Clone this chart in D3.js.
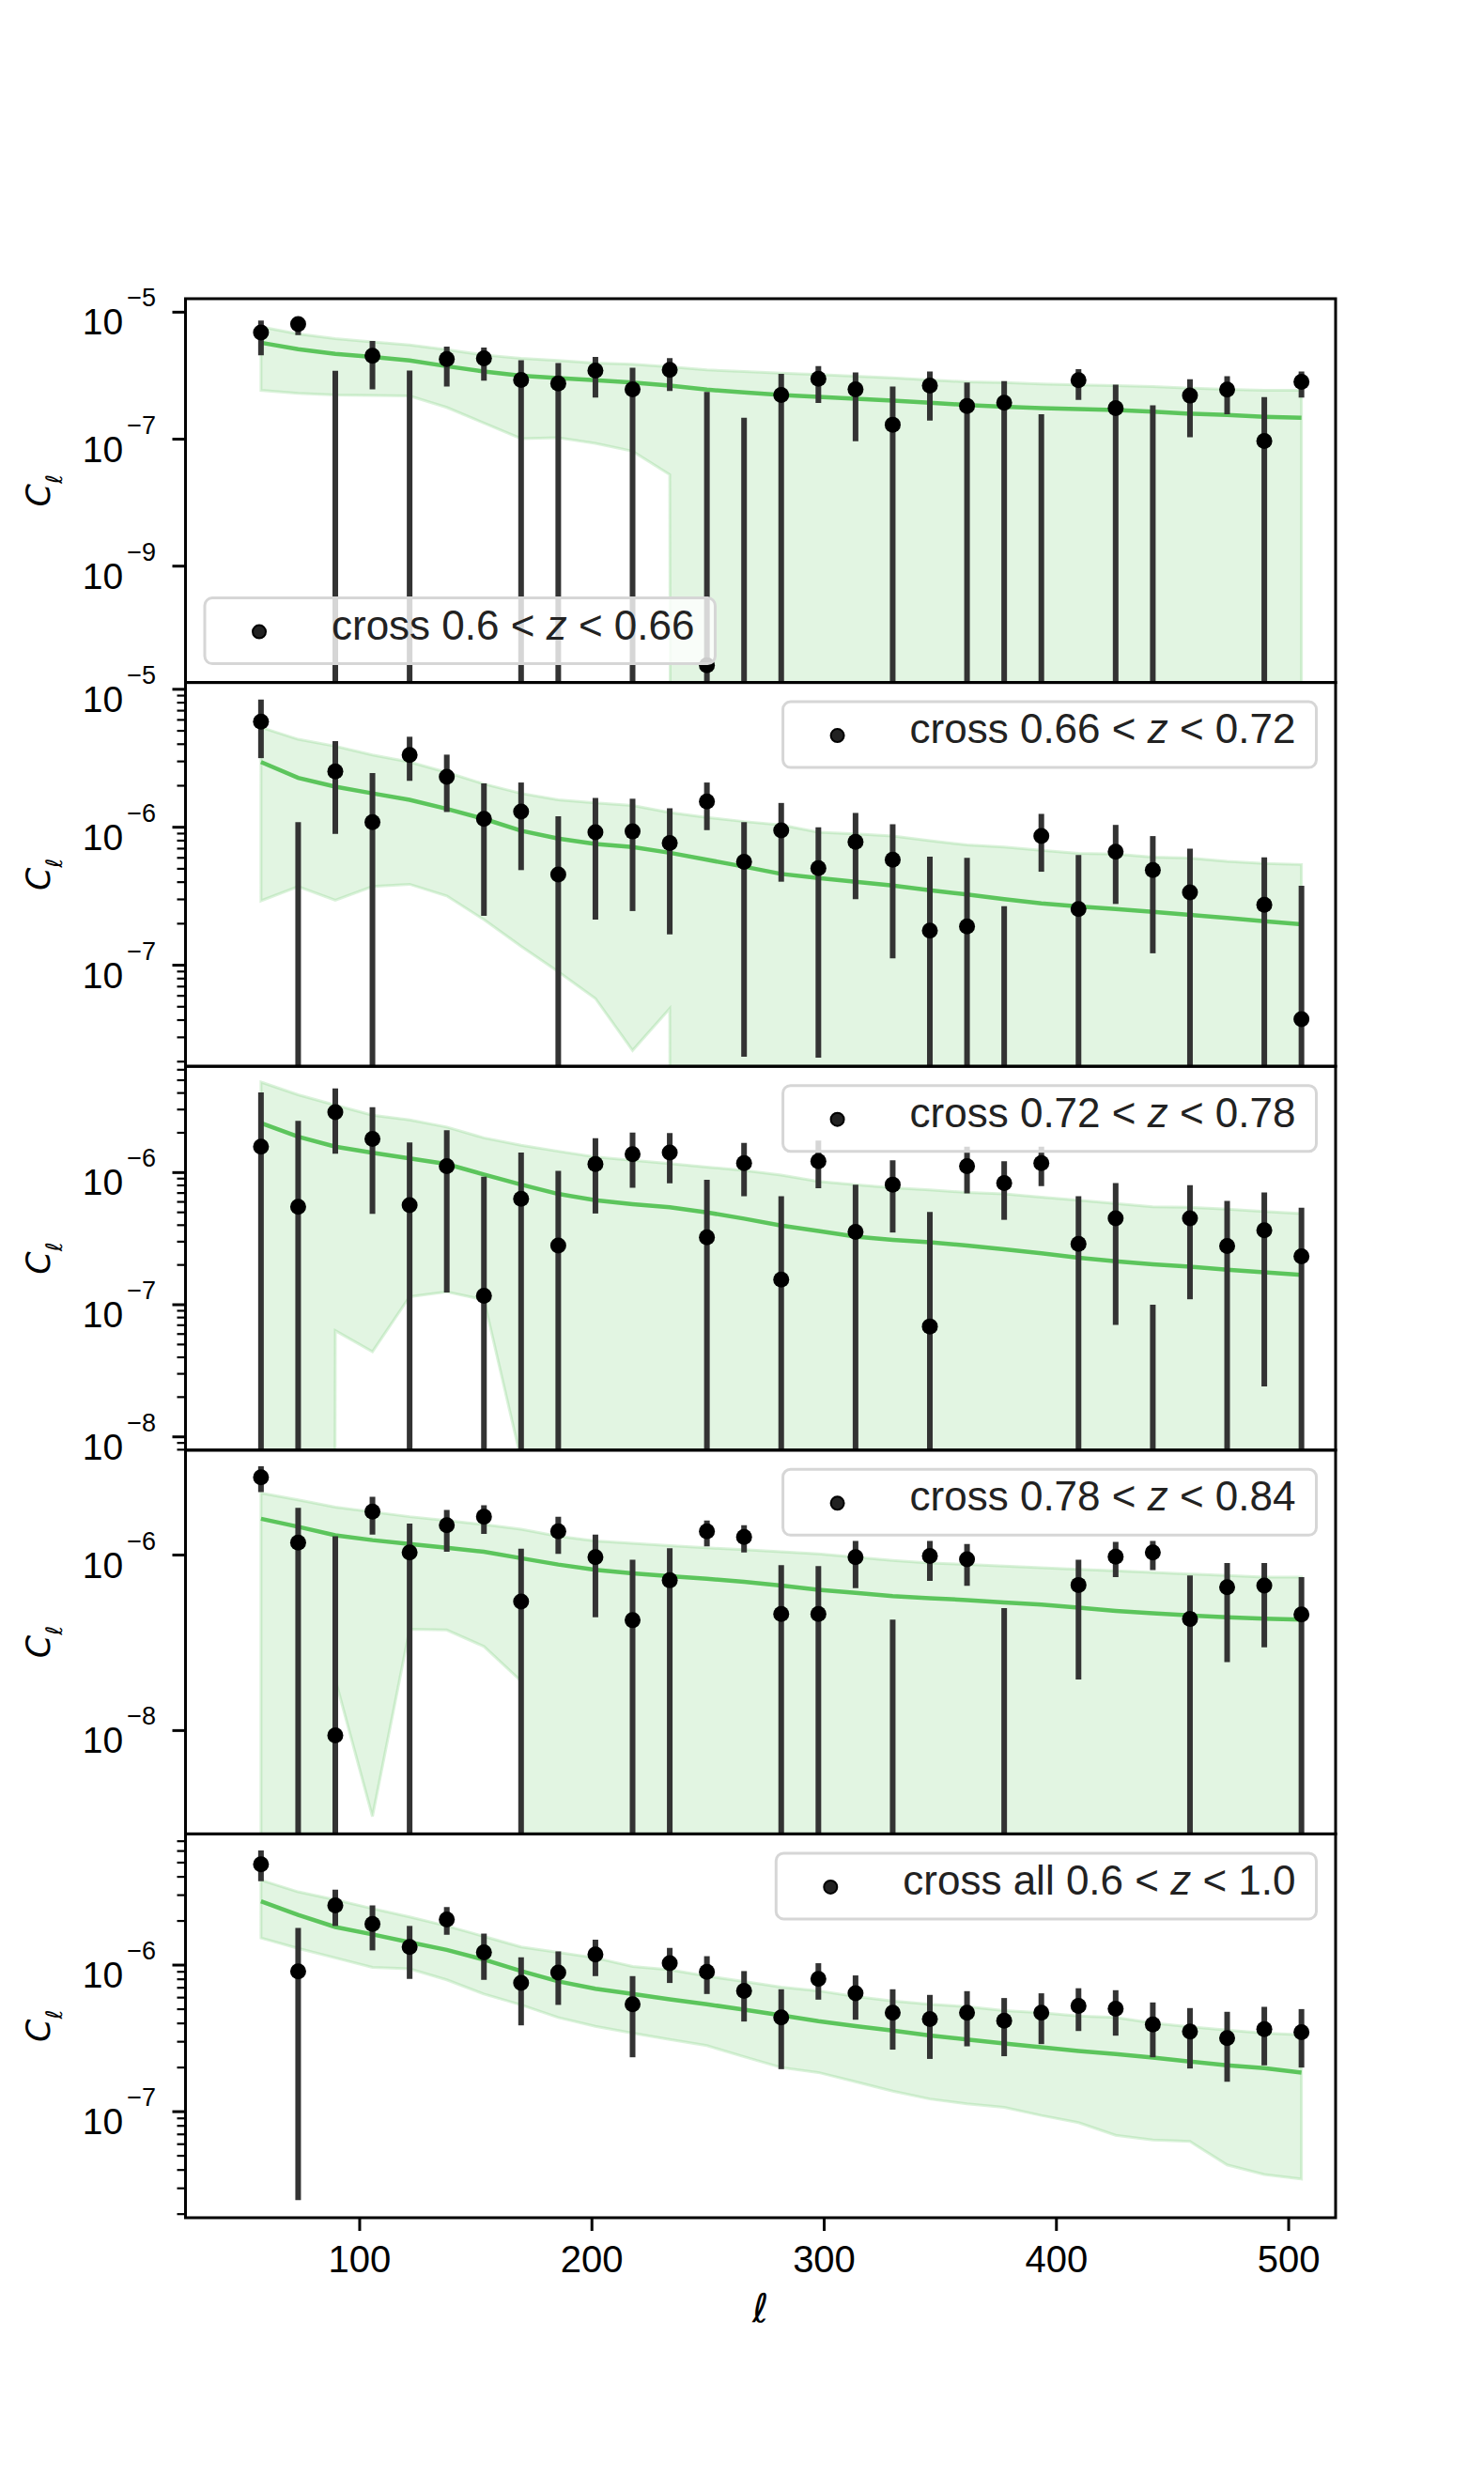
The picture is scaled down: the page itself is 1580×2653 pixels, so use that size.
<!DOCTYPE html>
<html>
<head>
<meta charset="utf-8">
<script src="https://cdn.jsdelivr.net/npm/d3@7"></script>
<style>
  body { margin: 0; background: #fff; }
  svg { display: block; font-family: "Liberation Sans", Arial, sans-serif; }
</style>
</head>
<body>
<svg id="mainChart" width="1580" height="2653"></svg>
<script>
// multipole bins
const ells = [57.5, 73.5, 89.5, 105.5, 121.5, 137.5, 153.5, 169.5, 185.5, 201.5, 217.5, 233.5, 249.5, 265.5, 281.5,
  297.5, 313.5, 329.5, 345.5, 361.5, 377.5, 393.5, 409.5, 425.5, 441.5, 457.5, 473.5, 489.5, 505.5];
const xTicks = [100, 200, 300, 400, 500];

const legendLabels = [
  ["cross 0.6 < ", "z", " < 0.66"],
  ["cross 0.66 < ", "z", " < 0.72"],
  ["cross 0.72 < ", "z", " < 0.78"],
  ["cross 0.78 < ", "z", " < 0.84"],
  ["cross all 0.6 < ", "z", " < 1.0"]
];
const yMin = [1.47e-11, 1.85e-8, 7.94e-9, 6.64e-10, 1.89e-8];
const yMax = [1.63e-5, 1.12e-5, 6.37e-6, 1.57e-5, 7.85e-6];
const yTickExp = [[-5, -7, -9], [-5, -6, -7], [-6, -7, -8], [-6, -8], [-6, -7]];
const yMinor = [false, true, true, false, true];

// panel 1 : 0.6 < z < 0.66  (null = not drawn, 0 = below the axis)
const cl1 = [4.79e-6, 6.50e-6, null, 2.05e-6, null, 1.83e-6, 1.87e-6, 8.55e-7, 7.55e-7, 1.20e-6, 6.09e-7, 1.23e-6, 2.75e-11, null, 4.97e-7,
  8.95e-7, 6.09e-7, 1.69e-7, 6.98e-7, 3.34e-7, 3.74e-7, null, 8.46e-7, 3.08e-7, null, 4.86e-7, 6.02e-7, 9.38e-8, 8.00e-7];
const hi1 = [7.36e-6, 8.15e-6, 1.19e-6, 3.52e-6, 1.20e-6, 2.87e-6, 2.78e-6, 1.75e-6, 1.58e-6, 1.98e-6, 1.33e-6, 1.89e-6, 5.56e-7, 2.17e-7, 1.07e-6,
  1.41e-6, 1.12e-6, 6.74e-7, 1.16e-6, 7.81e-7, 8.17e-7, 2.46e-7, 1.27e-6, 7.22e-7, 3.41e-7, 8.75e-7, 9.80e-7, 4.58e-7, 1.16e-6];
const lo1 = [2.09e-6, 4.37e-6, 0, 6.09e-7, 0, 6.74e-7, 8.36e-7, 0, 0, 4.53e-7, 0, 5.75e-7, 0, 0, 0,
  3.70e-7, 9.28e-8, 0, 1.96e-7, 0, 0, 0, 4.14e-7, 0, 0, 1.07e-7, 2.46e-7, 0, 4.53e-7];
const model1 = [3.30e-6, 2.62e-6, 2.21e-6, 1.98e-6, 1.73e-6, 1.41e-6, 1.16e-6, 1.00e-6, 9.16e-7, 8.46e-7, 7.81e-7, 6.97e-7, 6.02e-7, 5.43e-7, 4.97e-7,
  4.64e-7, 4.33e-7, 4.05e-7, 3.74e-7, 3.45e-7, 3.23e-7, 3.08e-7, 2.98e-7, 2.88e-7, 2.72e-7, 2.52e-7, 2.40e-7, 2.25e-7, 2.17e-7];
const bandHi1 = [5.87e-6, 4.53e-6, 3.82e-6, 3.41e-6, 3.04e-6, 2.57e-6, 2.12e-6, 1.87e-6, 1.73e-6, 1.58e-6, 1.51e-6, 1.38e-6, 1.23e-6, 1.16e-6, 1.10e-6,
  1.04e-6, 9.80e-7, 9.27e-7, 8.55e-7, 8.00e-7, 7.81e-7, 7.38e-7, 7.13e-7, 6.97e-7, 6.74e-7, 6.37e-7, 6.09e-7, 5.88e-7, 5.88e-7];
const bandLo1 = [5.88e-7, 5.25e-7, 4.97e-7, 4.86e-7, 4.80e-7, 3.16e-7, 1.79e-7, 1.02e-7, 1.05e-7, 8.57e-8, 6.46e-8, 2.76e-8, 0, 0, 0,
  0, 0, 0, 0, 0, 0, 0, 0, 0, 0, 0, 0, 0, 0];

// panel 2 : 0.66 < z < 0.72
const cl2 = [5.83e-6, null, 2.54e-6, 1.09e-6, 3.34e-6, 2.32e-6, 1.15e-6, 1.30e-6, 4.54e-7, 9.19e-7, 9.33e-7, 7.69e-7, 1.54e-6, 5.61e-7, 9.49e-7,
  5.05e-7, 7.85e-7, 5.82e-7, 1.78e-7, 1.91e-7, null, 8.63e-7, 2.55e-7, 6.64e-7, 4.89e-7, 3.38e-7, null, 2.74e-7, 4.07e-8];
const hi2 = [8.44e-6, 1.09e-6, 4.21e-6, 2.47e-6, 4.53e-6, 3.36e-6, 2.08e-6, 2.11e-6, 1.20e-6, 1.63e-6, 1.61e-6, 1.37e-6, 2.11e-6, 1.09e-6, 1.50e-6,
  1.00e-6, 1.27e-6, 1.05e-6, 6.13e-7, 6.00e-7, 2.68e-7, 1.25e-6, 6.29e-7, 1.04e-6, 8.63e-7, 7.00e-7, null, 6.04e-7, 3.76e-7];
const lo2 = [3.17e-6, 0, 8.95e-7, 0, 2.17e-6, 1.29e-6, 2.28e-7, 4.89e-7, 0, 2.14e-7, 2.47e-7, 1.67e-7, 9.53e-7, 2.17e-8, 4.03e-7,
  2.14e-8, 3.01e-7, 1.12e-7, 0, 0, 0, 4.76e-7, 0, 2.78e-7, 1.22e-7, 0, null, 0, 0];
const model2 = [2.97e-6, 2.28e-6, 1.97e-6, 1.76e-6, 1.58e-6, 1.36e-6, 1.15e-6, 9.44e-7, 8.27e-7, 7.57e-7, 7.18e-7, 6.53e-7, 5.82e-7, 5.18e-7, 4.59e-7,
  4.29e-7, 4.03e-7, 3.78e-7, 3.49e-7, 3.26e-7, 3.01e-7, 2.81e-7, 2.67e-7, 2.55e-7, 2.44e-7, 2.32e-7, 2.20e-7, 2.08e-7, 1.98e-7];
const bandHi2 = [5.30e-6, 4.34e-6, 3.87e-6, 3.34e-6, 2.97e-6, 2.50e-6, 2.06e-6, 1.76e-6, 1.58e-6, 1.50e-6, 1.44e-6, 1.28e-6, 1.18e-6, 1.10e-6, 1.04e-6,
  9.19e-7, 8.95e-7, 8.63e-7, 7.98e-7, 7.45e-7, 7.18e-7, 6.81e-7, 6.46e-7, 6.40e-7, 6.07e-7, 5.97e-7, 5.66e-7, 5.46e-7, 5.37e-7];
const bandLo2 = [2.93e-7, 3.72e-7, 2.96e-7, 3.72e-7, 3.86e-7, 3.18e-7, 2.14e-7, 1.37e-7, 8.98e-8, 5.74e-8, 2.41e-8, 4.85e-8, 0, 0, 0,
  0, 0, 0, 0, 0, 0, 0, 0, 0, 0, 0, 0, 0, 0];

// panel 3 : 0.72 < z < 0.78
const cl3 = [1.57e-6, 5.52e-7, 2.87e-6, 1.80e-6, 5.68e-7, 1.12e-6, 1.17e-7, 6.34e-7, 2.81e-7, 1.16e-6, 1.38e-6, 1.42e-6, 3.24e-7, 1.18e-6, 1.55e-7,
  1.22e-6, 3.56e-7, 8.11e-7, 6.85e-8, 1.12e-6, 8.34e-7, 1.18e-6, 2.89e-7, 4.51e-7, null, 4.51e-7, 2.78e-7, 3.66e-7, 2.32e-7];
const hi3 = [4.04e-6, 2.46e-6, 4.34e-6, 3.12e-6, 1.69e-6, 2.09e-6, 9.31e-7, 1.42e-6, 1.03e-6, 1.82e-6, 2.01e-6, 1.99e-6, 8.81e-7, 1.68e-6, 6.62e-7,
  1.75e-6, 8.11e-7, 1.24e-6, 5.03e-7, 1.57e-6, 1.22e-6, 1.57e-6, 6.62e-7, 8.34e-7, 1.00e-7, 8.03e-7, 6.10e-7, 7.07e-7, 5.43e-7];
const lo3 = [0, 0, 1.39e-6, 4.87e-7, 0, 1.24e-7, 0, 0, 0, 4.90e-7, 7.68e-7, 8.30e-7, 0, 6.62e-7, 0,
  7.60e-7, 0, 3.52e-7, 0, 6.95e-7, 4.39e-7, 7.89e-7, 0, 7.03e-8, 0, 1.10e-7, 0, 2.41e-8, 0];
const model3 = [2.37e-6, 1.87e-6, 1.57e-6, 1.41e-6, 1.28e-6, 1.16e-6, 9.68e-7, 8.11e-7, 6.89e-7, 6.17e-7, 5.77e-7, 5.46e-7, 5.00e-7, 4.48e-7, 3.97e-7,
  3.62e-7, 3.28e-7, 3.10e-7, 2.97e-7, 2.81e-7, 2.63e-7, 2.45e-7, 2.27e-7, 2.13e-7, 2.02e-7, 1.94e-7, 1.84e-7, 1.76e-7, 1.68e-7];
const bandHi3 = [4.84e-6, 3.88e-6, 3.24e-6, 2.72e-6, 2.50e-6, 2.21e-6, 1.83e-6, 1.61e-6, 1.45e-6, 1.31e-6, 1.24e-6, 1.17e-6, 1.10e-6, 1.04e-6, 9.57e-7,
  8.57e-7, 8.11e-7, 7.68e-7, 7.39e-7, 7.07e-7, 6.89e-7, 6.52e-7, 6.17e-7, 5.83e-7, 5.52e-7, 5.46e-7, 5.28e-7, 5.08e-7, 4.90e-7];
const bandLo3 = [0, 0, 6.37e-8, 4.41e-8, 1.15e-7, 1.25e-7, 1.09e-7, 6.7e-9, 0, 0, 0, 0, 0, 0, 0,
  0, 0, 0, 0, 0, 0, 0, 0, 0, 0, 0, 0, 0, 0];

// panel 4 : 0.78 < z < 0.84
const cl4 = [7.71e-6, 1.39e-6, 8.83e-9, 3.13e-6, 1.07e-6, 2.19e-6, 2.74e-6, 2.96e-7, 1.86e-6, 9.44e-7, 1.81e-7, 5.16e-7, 1.86e-6, 1.61e-6, 2.13e-7,
  2.13e-7, 9.44e-7, null, 9.75e-7, 8.98e-7, null, null, 4.56e-7, 9.59e-7, 1.07e-6, 1.87e-7, 4.31e-7, 4.49e-7, 2.11e-7];
const hi4 = [1.03e-5, 3.46e-6, 1.64e-6, 4.61e-6, 2.29e-6, 3.26e-6, 3.69e-6, 1.18e-6, 2.74e-6, 1.71e-6, 8.84e-7, 1.20e-6, 2.48e-6, 2.19e-6, 7.67e-7,
  7.48e-7, 1.45e-6, 1.84e-7, 1.45e-6, 1.34e-6, 2.49e-7, null, 8.84e-7, 1.41e-6, 1.45e-6, 5.85e-7, 8.13e-7, 8.13e-7, 5.61e-7];
const lo4 = [5.22e-6, 0, 0, 1.71e-6, 0, 1.09e-6, 1.74e-6, 0, 1.03e-6, 1.96e-7, 0, 0, 1.26e-6, 1.07e-6, 0,
  0, 4.20e-7, 0, 5.08e-7, 4.45e-7, 0, null, 3.82e-8, 5.61e-7, 6.73e-7, 0, 6.01e-8, 8.87e-8, 0];
const model4 = [2.59e-6, 2.10e-6, 1.68e-6, 1.48e-6, 1.34e-6, 1.21e-6, 1.09e-6, 9.21e-7, 7.80e-7, 6.78e-7, 6.19e-7, 5.74e-7, 5.38e-7, 4.95e-7, 4.49e-7,
  4.03e-7, 3.71e-7, 3.41e-7, 3.22e-7, 3.07e-7, 2.89e-7, 2.73e-7, 2.51e-7, 2.31e-7, 2.17e-7, 2.05e-7, 1.96e-7, 1.88e-7, 1.84e-7];
const bandHi4 = [5.09e-6, 4.25e-6, 3.51e-6, 3.10e-6, 2.74e-6, 2.48e-6, 2.23e-6, 1.97e-6, 1.64e-6, 1.45e-6, 1.36e-6, 1.28e-6, 1.21e-6, 1.15e-6, 1.09e-6,
  1.03e-6, 9.44e-7, 8.69e-7, 8.13e-7, 7.80e-7, 7.48e-7, 7.18e-7, 6.89e-7, 6.61e-7, 6.35e-7, 6.09e-7, 5.85e-7, 5.61e-7, 5.61e-7];
const bandLo4 = [0, 0, 3.82e-8, 1.05e-9, 1.43e-7, 1.40e-7, 9.09e-8, 3.66e-8, 0, 0, 0, 0, 0, 0, 0,
  0, 0, 0, 0, 0, 0, 0, 0, 0, 0, 0, 0, 0, 0];

// panel 5 : all 0.6 < z < 1.0
const cl5 = [4.87e-6, 9.06e-7, 2.55e-6, 1.91e-6, 1.33e-6, 2.05e-6, 1.22e-6, 7.55e-7, 8.89e-7, 1.18e-6, 5.40e-7, 1.03e-6, 8.98e-7, 6.68e-7, 4.39e-7,
  8.05e-7, 6.42e-7, 4.73e-7, 4.29e-7, 4.73e-7, 4.18e-7, 4.73e-7, 5.27e-7, 5.04e-7, 3.94e-7, 3.52e-7, 3.18e-7, 3.66e-7, 3.48e-7];
const hi5 = [6.05e-6, 1.79e-6, 3.27e-6, 2.55e-6, 1.85e-6, 2.49e-6, 1.64e-6, 1.13e-6, 1.24e-6, 1.49e-6, 8.41e-7, 1.31e-6, 1.15e-6, 9.10e-7, 6.84e-7,
  1.03e-6, 8.50e-7, 6.84e-7, 6.26e-7, 6.64e-7, 5.96e-7, 6.42e-7, 6.95e-7, 6.74e-7, 5.56e-7, 5.09e-7, 4.80e-7, 5.19e-7, 5.01e-7];
const lo5 = [3.73e-6, 2.49e-8, 1.85e-6, 1.26e-6, 8.05e-7, 1.61e-6, 7.93e-7, 3.88e-7, 5.35e-7, 8.41e-7, 2.35e-7, 7.55e-7, 6.35e-7, 4.12e-7, 1.95e-7,
  5.81e-7, 4.24e-7, 2.65e-7, 2.29e-7, 2.79e-7, 2.39e-7, 2.89e-7, 3.55e-7, 3.30e-7, 2.35e-7, 1.97e-7, 1.60e-7, 2.07e-7, 2.00e-7];
const model5 = [2.72e-6, 2.20e-6, 1.82e-6, 1.62e-6, 1.43e-6, 1.27e-6, 1.09e-6, 9.10e-7, 7.74e-7, 6.90e-7, 6.35e-7, 5.84e-7, 5.40e-7, 4.97e-7, 4.54e-7,
  4.14e-7, 3.84e-7, 3.57e-7, 3.31e-7, 3.11e-7, 2.92e-7, 2.75e-7, 2.59e-7, 2.47e-7, 2.34e-7, 2.20e-7, 2.07e-7, 1.98e-7, 1.85e-7];
const bandHi5 = [3.80e-6, 3.16e-6, 2.79e-6, 2.43e-6, 2.13e-6, 1.85e-6, 1.57e-6, 1.33e-6, 1.22e-6, 1.12e-6, 9.80e-7, 9.29e-7, 8.41e-7, 7.74e-7, 7.08e-7,
  6.68e-7, 6.11e-7, 5.70e-7, 5.40e-7, 5.21e-7, 4.89e-7, 4.73e-7, 4.50e-7, 4.39e-7, 4.02e-7, 3.79e-7, 3.60e-7, 3.43e-7, 3.35e-7];
const bandLo5 = [1.53e-6, 1.30e-6, 1.12e-6, 9.66e-7, 9.42e-7, 7.93e-7, 6.35e-7, 5.35e-7, 4.39e-7, 3.82e-7, 3.43e-7, 3.11e-7, 2.82e-7, 2.37e-7, 2.00e-7,
  1.85e-7, 1.60e-7, 1.38e-7, 1.22e-7, 1.13e-7, 1.07e-7, 9.42e-8, 8.41e-8, 6.90e-8, 6.41e-8, 6.26e-8, 4.33e-8, 3.73e-8, 3.47e-8];

const panels = [
  { cl: cl1, hi: hi1, lo: lo1, model: model1, bandHi: bandHi1, bandLo: bandLo1, legendPos: "lower left" },
  { cl: cl2, hi: hi2, lo: lo2, model: model2, bandHi: bandHi2, bandLo: bandLo2, legendPos: "upper right" },
  { cl: cl3, hi: hi3, lo: lo3, model: model3, bandHi: bandHi3, bandLo: bandLo3, legendPos: "upper right" },
  { cl: cl4, hi: hi4, lo: lo4, model: model4, bandHi: bandHi4, bandLo: bandLo4, legendPos: "upper right" },
  { cl: cl5, hi: hi5, lo: lo5, model: model5, bandHi: bandHi5, bandLo: bandLo5, legendPos: "upper right" }
];

const attr = {
  left: 197.5,
  right: 1422,
  top: 318,
  panelH: 408.6,
  font: "'Liberation Sans', Arial, sans-serif"
};

const green = "#5cc55c";
const bandColor = "rgb(110,205,110)";
const barColor = "#333333";

const svg = d3.select("svg#mainChart");

const scaleX = d3.scaleLinear()
  .domain([25, 520.2])
  .range([attr.left, attr.right]);

// y position that sends zero / negative values far below the panel
function yPos(scaleY, v, bottom) {
  if (v === null) return null;
  if (v <= 0) return bottom + 20000;
  return scaleY(v);
}

function drawPanel(p, i) {
  const top = attr.top + i * attr.panelH;
  const bottom = top + attr.panelH;

  const scaleY = d3.scaleLog()
    .domain([yMin[i], yMax[i]])
    .range([bottom, top]);

  const clipId = "clip" + i;
  svg.append("clipPath")
    .attr("id", clipId)
    .append("rect")
    .attr("x", attr.left)
    .attr("y", top)
    .attr("width", attr.right - attr.left)
    .attr("height", attr.panelH);

  const g = svg.append("g").attr("clip-path", `url(#${clipId})`);

  const rows = ells.map((l, k) => ({
    l: l, cl: p.cl[k], hi: p.hi[k], lo: p.lo[k],
    m: p.model[k], bHi: p.bandHi[k], bLo: p.bandLo[k]
  }));

  // shaded band
  const area = d3.area()
    .x(d => scaleX(d.l))
    .y0(d => yPos(scaleY, d.bLo, bottom))
    .y1(d => yPos(scaleY, d.bHi, bottom));

  g.append("path")
    .datum(rows)
    .attr("d", area)
    .attr("fill", bandColor)
    .attr("fill-opacity", 0.2)
    .attr("stroke", bandColor)
    .attr("stroke-opacity", 0.25)
    .attr("stroke-width", 3);

  // model curve
  const line = d3.line()
    .x(d => scaleX(d.l))
    .y(d => scaleY(d.m));

  g.append("path")
    .datum(rows)
    .attr("d", line)
    .attr("fill", "none")
    .attr("stroke", green)
    .attr("stroke-width", 4.5);

  // error bars
  g.selectAll(".ebar")
    .data(rows.filter(d => d.hi !== null))
    .enter()
    .append("line")
    .attr("class", "ebar")
    .attr("x1", d => scaleX(d.l))
    .attr("x2", d => scaleX(d.l))
    .attr("y1", d => yPos(scaleY, d.hi, bottom))
    .attr("y2", d => Math.min(yPos(scaleY, d.lo, bottom), bottom + 10))
    .attr("stroke", barColor)
    .attr("stroke-width", 6);

  // points
  g.selectAll(".dot")
    .data(rows.filter(d => d.cl !== null && d.cl > 0))
    .enter()
    .append("circle")
    .attr("class", "dot")
    .attr("cx", d => scaleX(d.l))
    .attr("cy", d => scaleY(d.cl))
    .attr("r", 8.5)
    .style("fill", "#000");

  // y ticks
  const majors = yTickExp[i];
  const minors = [];
  if (yMinor[i]) {
    const e0 = Math.floor(Math.log10(yMin[i]));
    const e1 = Math.ceil(Math.log10(yMax[i]));
    for (let e = e0; e <= e1; e++) {
      for (let m = 2; m <= 9; m++) {
        const v = m * Math.pow(10, e);
        if (v >= yMin[i] && v <= yMax[i]) minors.push(v);
      }
    }
  }

  svg.selectAll(".minor" + i)
    .data(minors)
    .enter()
    .append("line")
    .attr("x1", attr.left - 9)
    .attr("x2", attr.left)
    .attr("y1", d => scaleY(d))
    .attr("y2", d => scaleY(d))
    .attr("stroke", "#000")
    .attr("stroke-width", 2.2);

  majors.forEach(e => {
    const y = scaleY(Math.pow(10, e));
    svg.append("line")
      .attr("x1", attr.left - 14)
      .attr("x2", attr.left)
      .attr("y1", y)
      .attr("y2", y)
      .attr("stroke", "#000")
      .attr("stroke-width", 3);

    const t = svg.append("text")
      .attr("x", 166)
      .attr("y", y + 24)
      .attr("text-anchor", "end")
      .style("font-family", attr.font)
      .style("font-size", "39px")
      .style("fill", "#000");
    t.append("tspan").text("10");
    t.append("tspan")
      .attr("dy", -30)
      .attr("dx", 4)
      .style("font-size", "27px")
      .text("\u2212" + Math.abs(e));
  });

  // frame
  svg.append("rect")
    .attr("x", attr.left)
    .attr("y", top)
    .attr("width", attr.right - attr.left)
    .attr("height", attr.panelH)
    .attr("fill", "none")
    .attr("stroke", "#000")
    .attr("stroke-width", 3);

  // y label
  const yl = svg.append("text")
    .attr("transform", `translate(53, ${(top + bottom) / 2}) rotate(-90)`)
    .attr("text-anchor", "middle")
    .style("fill", "#000");
  yl.append("tspan")
    .style("font-family", "'DejaVu Sans', sans-serif")
    .style("font-style", "italic")
    .style("font-size", "35px")
    .text("C");
  yl.append("tspan")
    .attr("dy", 13)
    .style("font-family", "'DejaVu Sans', sans-serif")
    .style("font-style", "italic")
    .style("font-size", "24px")
    .text("\u2113");

  drawLegend(legendLabels[i], p.legendPos, top, bottom);
}

function drawLegend(label, pos, top, bottom) {
  const boxH = 70;
  const g = svg.append("g");

  const txt = g.append("text")
    .attr("y", 0)
    .style("font-family", attr.font)
    .style("font-size", "44px")
    .style("fill", "#222");
  txt.append("tspan").text(label[0]);
  txt.append("tspan").style("font-style", "italic").text(label[1]);
  txt.append("tspan").text(label[2]);

  const textW = txt.node().getComputedTextLength();
  const boxW = 135 + textW + 22;

  let x0, y0;
  if (pos === "lower left") {
    x0 = attr.left + 20.5;
    y0 = bottom - 20 - boxH;
  } else {
    x0 = attr.right - 20.5 - boxW;
    y0 = top + 20.5;
  }

  g.insert("rect", "text")
    .attr("x", x0)
    .attr("y", y0)
    .attr("width", boxW)
    .attr("height", boxH)
    .attr("rx", 8)
    .attr("ry", 8)
    .attr("fill", "#fff")
    .attr("fill-opacity", 0.8)
    .attr("stroke", "#d6d6d6")
    .attr("stroke-width", 3);

  g.insert("circle", "text")
    .attr("cx", x0 + 58)
    .attr("cy", y0 + 36)
    .attr("r", 7)
    .style("fill", "#222")
    .style("stroke", "#000")
    .style("stroke-width", 2);

  txt.attr("x", x0 + 135).attr("y", y0 + 44);
}

panels.forEach((p, i) => drawPanel(p, i));

// x axis on the bottom panel
const axisBottom = attr.top + 5 * attr.panelH;

xTicks.forEach(v => {
  svg.append("line")
    .attr("x1", scaleX(v))
    .attr("x2", scaleX(v))
    .attr("y1", axisBottom)
    .attr("y2", axisBottom + 14)
    .attr("stroke", "#000")
    .attr("stroke-width", 3);

  svg.append("text")
    .attr("x", scaleX(v))
    .attr("y", axisBottom + 58)
    .attr("text-anchor", "middle")
    .style("font-family", attr.font)
    .style("font-size", "40px")
    .style("fill", "#000")
    .text(v);
});

svg.append("text")
  .attr("x", (attr.left + attr.right) / 2)
  .attr("y", axisBottom + 111)
  .attr("text-anchor", "middle")
  .style("font-family", "'DejaVu Sans', sans-serif")
  .style("font-style", "italic")
  .style("font-size", "42px")
  .style("fill", "#000")
  .text("\u2113");
</script>
</body>
</html>
